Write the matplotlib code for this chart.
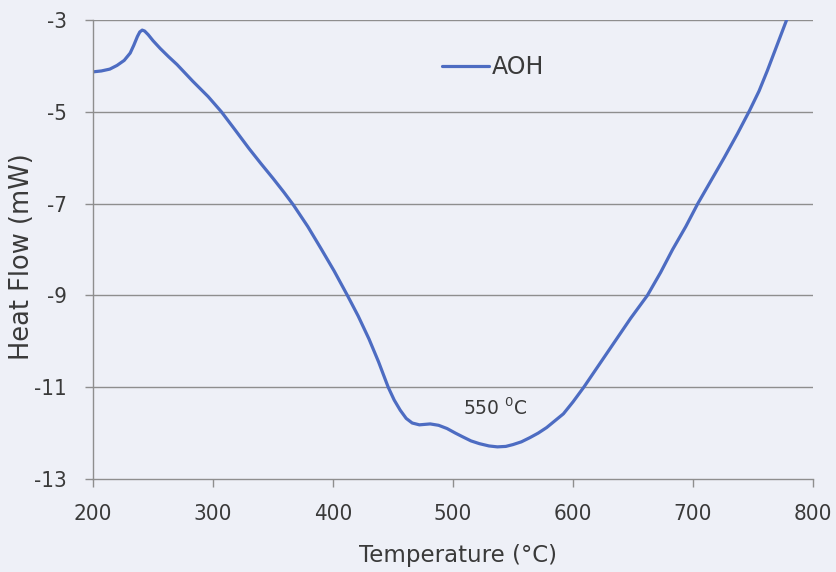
import matplotlib
matplotlib.use("Agg")
from matplotlib import pyplot as plt

# values
temp = [200, 207, 214, 220, 226, 231, 234, 237, 239, 241, 243, 246, 250, 256,
        263, 270, 283, 296, 307, 318, 330, 340, 350, 359, 367, 379, 390, 401,
        412, 421, 430, 438, 446, 451, 456, 461, 466, 472, 481, 488, 495, 502,
        508, 515, 522, 530, 537, 544, 550, 557, 564, 571, 578, 585, 592, 600,
        609, 622, 635, 648, 662, 673, 683, 694, 704, 715, 726, 737, 747, 755,
        762, 770, 778]
heat = [-4.13, -4.11, -4.07, -3.99, -3.88, -3.72, -3.55, -3.36, -3.26, -3.22,
        -3.24, -3.32, -3.45, -3.62, -3.80, -3.97, -4.33, -4.67, -5.00, -5.38,
        -5.80, -6.13, -6.45, -6.75, -7.03, -7.50, -7.98, -8.47, -9.00, -9.45,
        -9.95, -10.45, -11.00, -11.28, -11.50, -11.68, -11.78, -11.82, -11.80,
        -11.83, -11.90, -12.00, -12.08, -12.17, -12.23, -12.28, -12.30, -12.29,
        -12.25, -12.19, -12.10, -12.00, -11.88, -11.73, -11.58, -11.32, -11.00,
        -10.50, -10.00, -9.50, -9.00, -8.50, -8.00, -7.50, -7.00, -6.50, -6.00,
        -5.48, -4.98, -4.55, -4.10, -3.55, -3.00]
xticks = [200, 300, 400, 500, 600, 700, 800]
yticks = [-13, -11, -9, -7, -5, -3]
series_name = "AOH"
peak_label = r"550 $^{0}$C"

bg = "#EEF0F7"
txt = "#3A3A3A"
grid_c = "#8E8E8E"
line_c = "#4D6CC2"

fig = plt.figure(figsize=(8.36, 5.72), dpi=100, facecolor=bg)
ax = fig.add_axes([93/836, 1 - 479/572, 720/836, 459/572])
ax.set_facecolor(bg)

ax.plot(temp, heat, color=line_c, lw=2.3, label=series_name,
        solid_capstyle="round", solid_joinstyle="round")

ax.set_xlim(200, 800)
ax.set_ylim(-13, -3)
ax.set_xticks(xticks)
ax.set_yticks(yticks)
ax.set_xticklabels([str(t) for t in xticks], family="DejaVu Sans",
                   stretch="condensed", fontsize=16, color=txt)
ax.set_yticklabels([str(t) for t in yticks], family="DejaVu Sans",
                   stretch="condensed", fontsize=16, color=txt)
ax.tick_params(axis="x", direction="out", length=6, width=1, color=grid_c, pad=12)
ax.tick_params(axis="y", direction="out", length=6, width=1, color=grid_c, pad=13)

for y in yticks[1:]:
    ax.axhline(y, color=grid_c, lw=1, zorder=0)
for s in ["top", "right"]:
    ax.spines[s].set_visible(False)
for s in ["left", "bottom"]:
    ax.spines[s].set_color(grid_c)
    ax.spines[s].set_linewidth(1)

fig.text(458/836, 1 - 562/572, "Temperature (\u00b0C)", ha="center", va="baseline",
         fontsize=16.5, color=txt)
fig.text(22/836, 1 - 257/572, "Heat Flow (mW)", rotation=90, ha="center", va="center",
         fontsize=18.5, color=txt)

ax.text(508, -11.6, peak_label, ha="left", va="baseline", fontsize=13.5, color=txt)

leg = ax.legend(loc="center left", bbox_to_anchor=(442/836, 1 - 67/572),
                bbox_transform=fig.transFigure, frameon=False, fontsize=17,
                handlelength=2.0, handletextpad=0.1, borderpad=0, borderaxespad=0)
for t in leg.get_texts():
    t.set_color(txt)

fig.savefig("out.png", dpi=100, facecolor=bg)
